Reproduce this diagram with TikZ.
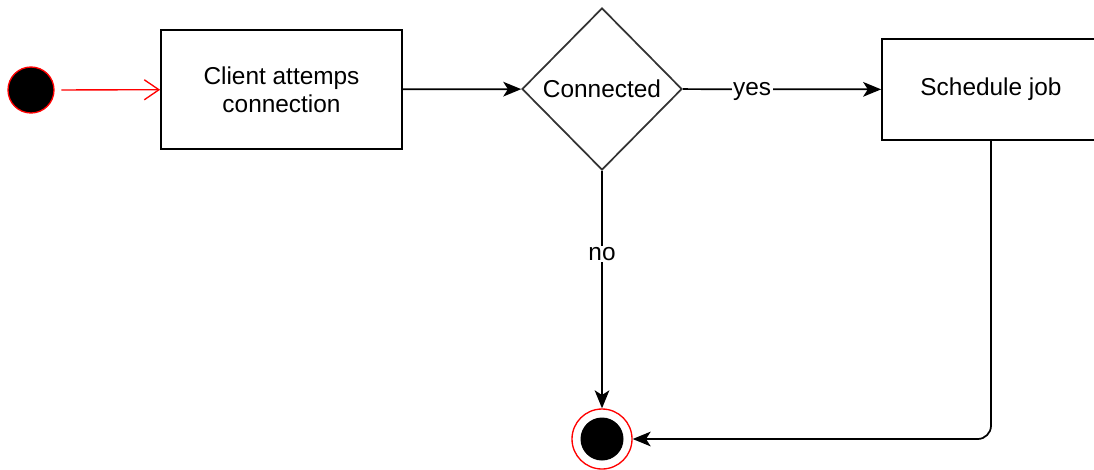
\documentclass[tikz,border=0pt]{standalone}
\usepackage{fontspec}
\setmainfont{Liberation Sans}
\usetikzlibrary{arrows.meta,shapes.geometric}

\tikzset{every picture/.style={line width=1.3pt}}
\tikzset{
	lbl/.style={font=\fontsize{18.3}{21}\selectfont},
	action/.style={draw, rectangle, align=center, inner sep=0pt, lbl},
	choice/.style={draw=black!80, diamond, inner sep=0pt, lbl},
	flow/.style={-{Stealth[length=13.5pt,width=11pt,inset=3.5pt]}},
	guard/.style={fill=white, inner sep=1pt, lbl},
}

\begin{document}
\begin{tikzpicture}[x=0.75pt,y=0.75pt,yscale=-1,xscale=1]
	\useasboundingbox (0,0) rectangle (1094,469);
	\clip (0,0) rectangle (1094,469);

	%Shape: Circle (initial state)
	\node [circle, draw=red, fill=black, line width=1pt, minimum size=34.5pt, inner sep=0pt] (init) at (31,90) {};
	%Shape: Rectangle
	\node [action, minimum width=180.75pt, minimum height=89.25pt] (attempt) at (281.5,89.5) {Client attemps\\connection};
	%Shape: Diamond
	\node [choice, minimum width=120pt, minimum height=121.5pt] (connected) at (602,89) {Connected};
	%Shape: Rectangle
	\node [action, minimum width=163.5pt, minimum height=75.75pt] (schedule) at (991,89.5) {Schedule job};
	%Shape: Circle (final state)
	\node [circle, draw=red, fill=white, line width=1pt, minimum size=45pt, inner sep=0pt] (final) at (602,439) {};
	\node [circle, fill=black, minimum size=32.25pt, inner sep=0pt] (finaldot) at (final) {};

	%Straight Lines
	\draw [red, line width=1pt, -{Straight Barb[length=11pt,width=15pt]}, shorten <=5pt] (init) -- (attempt);
	\draw [flow] (attempt) -- (connected);
	\draw [flow] (connected) -- node [guard, pos=0.35, yshift=-2pt] {yes} (schedule);
	\draw [flow] (connected) -- node [guard, pos=0.35] {no} (final);
	%Elbow line back to the end
	\draw [flow, rounded corners=10pt] (schedule.south) |- (final.east);
\end{tikzpicture}
\end{document}
